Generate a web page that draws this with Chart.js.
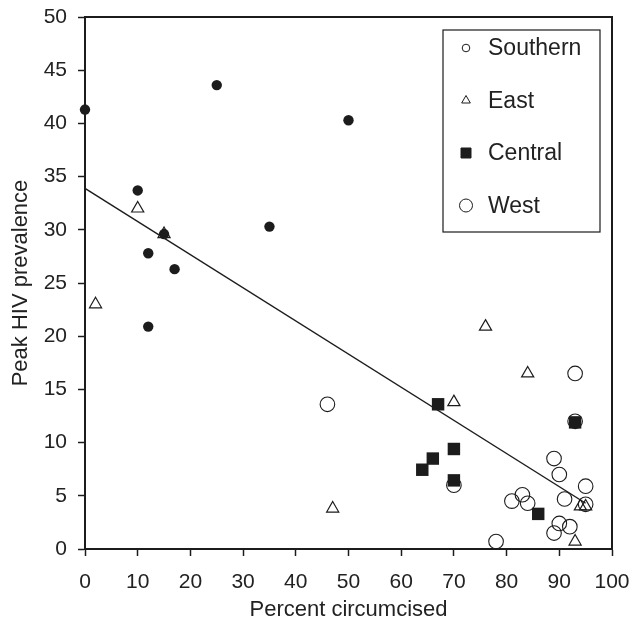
<!DOCTYPE html>
<html>
<head>
<meta charset="utf-8">
<script src="https://cdn.jsdelivr.net/npm/chart.js@4.4.1/dist/chart.umd.min.js"></script>
<style>
    html, body { margin: 0; padding: 0; background: #ffffff; }
    #wrap { width: 632px; height: 630px; }
</style>
</head>
<body>
<div id="wrap"><canvas id="chart"></canvas></div>
<script>
// Data: percent circumcised (x) vs peak HIV prevalence (y)
const southernX = [0, 10, 12, 12, 15, 17, 25, 35, 50];
const southernY = [41.3, 33.7, 27.8, 20.9, 29.6, 26.3, 43.6, 30.3, 40.3];

const eastX = [2, 10, 15, 47, 70, 76, 84, 93, 94, 95];
const eastY = [23.0, 32.0, 29.6, 3.8, 13.8, 20.9, 16.5, 0.7, 4.0, 4.0];

const centralX = [64, 66, 67, 70, 70, 86, 93];
const centralY = [7.45, 8.5, 13.6, 9.4, 6.45, 3.3, 11.9];

const westX = [46, 70, 78, 81, 83, 84, 89, 89, 90, 90, 91, 92, 93, 93, 95, 95];
const westY = [13.6, 6.0, 0.7, 4.5, 5.1, 4.3, 8.5, 1.5, 7.0, 2.4, 4.7, 2.1, 16.5, 12.0, 5.9, 4.2];

// Fitted line, end points as drawn
const fitX = [0, 95];
const fitY = [33.9, 4.3];

// Axis ticks
const xTicks = [0, 10, 20, 30, 40, 50, 60, 70, 80, 90, 100];
const yTicks = [0, 5, 10, 15, 20, 25, 30, 35, 40, 45, 50];

const ink = "#1c1c1c";
const font = "'Liberation Sans', Arial, sans-serif";

const zip = (xs, ys) => xs.map((x, i) => ({ x: x, y: ys[i] }));

// Legend drawn inside the plot, like the original figure
const legendItems = [
    { label: "Southern", style: "circle", r: 3.8, fill: false },
    { label: "East", style: "triangle", r: 5, fill: false },
    { label: "Central", style: "rect", r: 5, fill: true },
    { label: "West", style: "circle", r: 6.5, fill: false },
];

const frameAndLegend = {
    id: "frameAndLegend",
    afterDraw(chart) {
        const ctx = chart.ctx;
        const a = chart.chartArea;
        ctx.save();

        // top and right frame
        ctx.strokeStyle = ink;
        ctx.lineWidth = 2;
        ctx.beginPath();
        ctx.moveTo(a.left, a.top);
        ctx.lineTo(a.right, a.top);
        ctx.lineTo(a.right, a.bottom);
        ctx.stroke();

        // legend box
        const bx = 443, by = 30, bw = 157, bh = 202;
        ctx.fillStyle = "#ffffff";
        ctx.fillRect(bx, by, bw, bh);
        ctx.lineWidth = 1.2;
        ctx.strokeRect(bx, by, bw, bh);

        ctx.font = "23px " + font;
        ctx.textBaseline = "middle";
        legendItems.forEach((item, i) => {
            const cx = 466;
            const cy = 48 + i * 52.5;
            ctx.lineWidth = 1;
            ctx.strokeStyle = ink;
            ctx.fillStyle = ink;
            ctx.beginPath();
            if (item.style === "circle") {
                ctx.arc(cx, cy, item.r, 0, Math.PI * 2);
            } else if (item.style === "triangle") {
                ctx.moveTo(cx, cy - item.r);
                ctx.lineTo(cx + item.r * 0.866, cy + item.r * 0.5);
                ctx.lineTo(cx - item.r * 0.866, cy + item.r * 0.5);
                ctx.closePath();
            } else {
                ctx.rect(cx - item.r, cy - item.r, item.r * 2, item.r * 2);
            }
            if (item.fill) ctx.fill();
            ctx.stroke();

            ctx.fillStyle = "#222222";
            ctx.fillText(item.label, 488, cy + 1);
        });
        ctx.restore();
    },
};

// keep the plot box where the original has it, even if edge labels overhang
const pinX = (s) => {
    s.height = 81;
    s.paddingLeft = 0;
    s.paddingRight = 0;
};
const pinY = (s) => {
    s.width = 85;
    s.paddingTop = 0;
    s.paddingBottom = 0;
};

const chart = new Chart(document.getElementById("chart"), {
    type: "scatter",
    data: {
        datasets: [
            {
                label: "Southern",
                data: zip(southernX, southernY),
                pointStyle: "circle",
                pointRadius: 5.2,
                backgroundColor: ink,
                borderColor: ink,
                borderWidth: 0,
                clip: false,
                order: 1,
            },
            {
                label: "Central",
                data: zip(centralX, centralY),
                pointStyle: "rect",
                pointRadius: 8.8,
                backgroundColor: ink,
                borderColor: ink,
                borderWidth: 0,
                clip: false,
                order: 2,
            },
            {
                label: "East",
                data: zip(eastX, eastY),
                pointStyle: "triangle",
                pointRadius: 7,
                backgroundColor: "transparent",
                borderColor: ink,
                borderWidth: 1.2,
                clip: false,
                order: 3,
            },
            {
                label: "West",
                data: zip(westX, westY),
                pointStyle: "circle",
                pointRadius: 7.3,
                backgroundColor: "transparent",
                borderColor: ink,
                borderWidth: 1.1,
                clip: false,
                order: 4,
            },
            {
                type: "line",
                label: "Fit",
                data: zip(fitX, fitY),
                borderColor: ink,
                borderWidth: 1.4,
                pointRadius: 0,
                fill: false,
                order: 5,
            },
        ],
    },
    options: {
        responsive: true,
        maintainAspectRatio: false,
        animation: false,
        layout: {
            padding: { top: 17, right: 20, left: 0, bottom: 0 },
        },
        scales: {
            x: {
                type: "linear",
                min: 0,
                max: 100,
                afterBuildTicks: (s) => { s.ticks = xTicks.map((v) => ({ value: v })); },
                afterFit: pinX,
                grid: { drawOnChartArea: false, drawTicks: true, tickLength: 7, tickWidth: 1.5, tickColor: ink },
                border: { display: true, color: ink, width: 2 },
                ticks: { color: "#222222", font: { family: font, size: 21 }, padding: 14, maxRotation: 0 },
                title: { display: true, text: "Percent circumcised", color: "#222222", font: { family: font, size: 22 }, padding: { top: 4, bottom: 7 } },
            },
            y: {
                type: "linear",
                min: 0,
                max: 50,
                afterBuildTicks: (s) => { s.ticks = yTicks.map((v) => ({ value: v })); },
                afterFit: pinY,
                grid: { drawOnChartArea: false, drawTicks: true, tickLength: 7, tickWidth: 1.5, tickColor: ink },
                border: { display: true, color: ink, width: 2 },
                ticks: { color: "#222222", font: { family: font, size: 21 }, padding: 11 },
                title: { display: true, text: "Peak HIV prevalence", color: "#222222", font: { family: font, size: 22 }, padding: { top: 8, bottom: 4 } },
            },
        },
        plugins: {
            legend: { display: false },
            tooltip: { enabled: false },
        },
    },
    plugins: [frameAndLegend],
});
</script>
</body>
</html>
